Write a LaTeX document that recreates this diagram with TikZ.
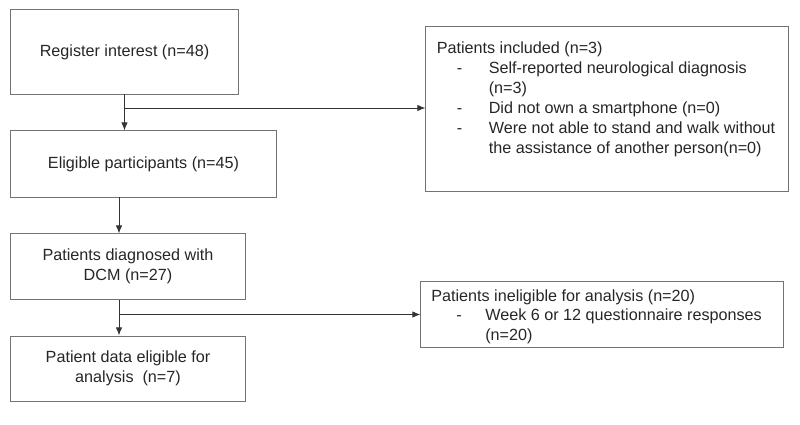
\documentclass[tikz,border=0pt]{standalone}
\usepackage{fontspec}
\setmainfont{Liberation Sans}
\usetikzlibrary{arrows.meta}

\begin{document}
\begin{tikzpicture}[x=0.025cm, y=-0.025cm,
	font=\fontsize{11.5}{14.2}\selectfont, text=black!85,
	stagebox/.style={draw=black!55, line width=0.7pt, inner sep=0pt, align=center},
	notetext/.style={anchor=base west, inner sep=0pt},
	flow/.style={draw=black!80, line width=0.7pt, -{Latex[length=0.2cm,width=0.16cm]}}]
	\useasboundingbox (0,0) rectangle (800,425);

	\node[stagebox, minimum width=5.675cm, minimum height=2.1cm] (register) at (124.5,52) {Register interest (n=48)};
	\node[stagebox, minimum width=6.625cm, minimum height=1.65cm] (eligible) at (143.5,164) {Eligible participants (n=45)};
	\node[stagebox, minimum width=5.85cm, minimum height=1.625cm] (dcm) at (128,266.5) {Patients diagnosed with\\DCM (n=27)};
	\node[stagebox, minimum width=5.85cm, minimum height=1.625cm] (analysis) at (128,368.5) {Patient data eligible for\\analysis\ \ (n=7)};

	\node[stagebox, minimum width=9.05cm, minimum height=4.1cm] (included) at (607,109) {};
	\node[notetext] (includedtext) at (436.5,54) {\begin{tabular}[t]{@{\hspace{0.5cm}}p{0.8cm}@{}l@{}}
		\multicolumn{2}{@{}l@{}}{Patients included (n=3)}\\
		- & Self-reported neurological diagnosis\\
		  & (n=3)\\
		- & Did not own a smartphone (n=0)\\
		- & Were not able to stand and walk without\\
		  & the assistance of another person(n=0)
	\end{tabular}};

	\node[stagebox, minimum width=9.05cm, minimum height=1.625cm] (ineligible) at (602,314.5) {};
	\node[notetext] (ineligibletext) at (431,301) {\begin{tabular}[t]{@{\hspace{0.625cm}}p{0.725cm}@{}l@{}}
		\multicolumn{2}{@{}l@{}}{Patients ineligible for analysis (n=20)}\\
		- & Week 6 or 12 questionnaire responses\\
		  & (n=20)
	\end{tabular}};

	\coordinate (split1) at (124.5,108);
	\coordinate (split2) at (119,314.5);
	\draw[flow] (register.south) -- (eligible.north -| register.south);
	\draw[flow] (split1) -- (included.west |- split1);
	\draw[flow] (eligible.south -| split2) -- (dcm.north -| split2);
	\draw[flow] (dcm.south -| split2) -- (analysis.north -| split2);
	\draw[flow] (split2) -- (ineligible.west |- split2);
\end{tikzpicture}
\end{document}
